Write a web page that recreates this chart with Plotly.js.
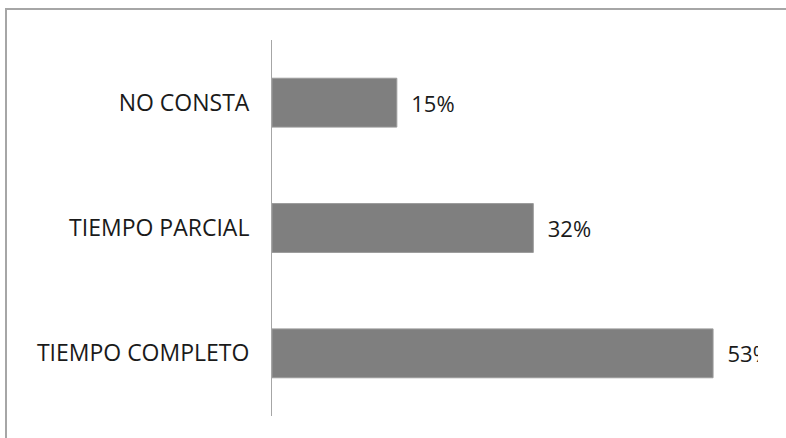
<!DOCTYPE html>
<html>
<head>
<meta charset="utf-8">
<script src="https://cdn.plot.ly/plotly-3.0.1.min.js"></script>
<style>
  html, body { margin: 0; padding: 0; background: #ffffff; }
  #chart { width: 786px; height: 438px; }
  #frame { position: absolute; left: 5px; top: 8px; width: 800px; height: 450px;
           border-left: 2px solid #a6a6a6; border-top: 2px solid #a6a6a6; pointer-events: none; }
</style>
</head>
<body>
<div id="chart"></div>
<div id="frame"></div>
<script>
// Data (bottom to top)
var categories = ['TIEMPO COMPLETO', 'TIEMPO PARCIAL', 'NO CONSTA'];
var values = [53, 31.4, 15];
var valueLabels = ['53%', '32%', '15%'];

var trace = {
  type: 'bar',
  orientation: 'h',
  y: categories,
  x: values,
  text: valueLabels.map(function (t) { return '\u00a0\u00a0' + t; }),
  textposition: 'outside',
  constraintext: 'none',
  cliponaxis: true,
  textfont: { family: 'Open Sans, sans-serif', size: 22, color: '#1a1a1a' },
  marker: { color: '#7f7f7f', line: { color: '#9c9c9c', width: 1 } },
  hoverinfo: 'none'
};

var layout = {
  width: 786,
  height: 438,
  margin: { l: 272, r: 28, t: 40, b: 22, pad: 0 },
  paper_bgcolor: '#ffffff',
  plot_bgcolor: '#ffffff',
  showlegend: false,
  bargap: 0.61,
  font: { family: 'Open Sans, sans-serif', size: 22, color: '#1a1a1a' },
  xaxis: {
    range: [0, 58.4],
    showticklabels: false,
    showgrid: false,
    zeroline: false,
    showline: false,
    ticks: ''
  },
  yaxis: {
    type: 'category',
    range: [-0.5, 2.5],
    showline: true,
    linecolor: '#a6a6a6',
    linewidth: 1,
    showgrid: false,
    zeroline: false,
    ticks: '',
    ticklabelstandoff: 17,
    tickfont: { family: 'Open Sans, sans-serif', size: 23, color: '#1a1a1a' }
  }
};

Plotly.newPlot('chart', [trace], layout, { staticPlot: true, displayModeBar: false });
</script>
</body>
</html>
